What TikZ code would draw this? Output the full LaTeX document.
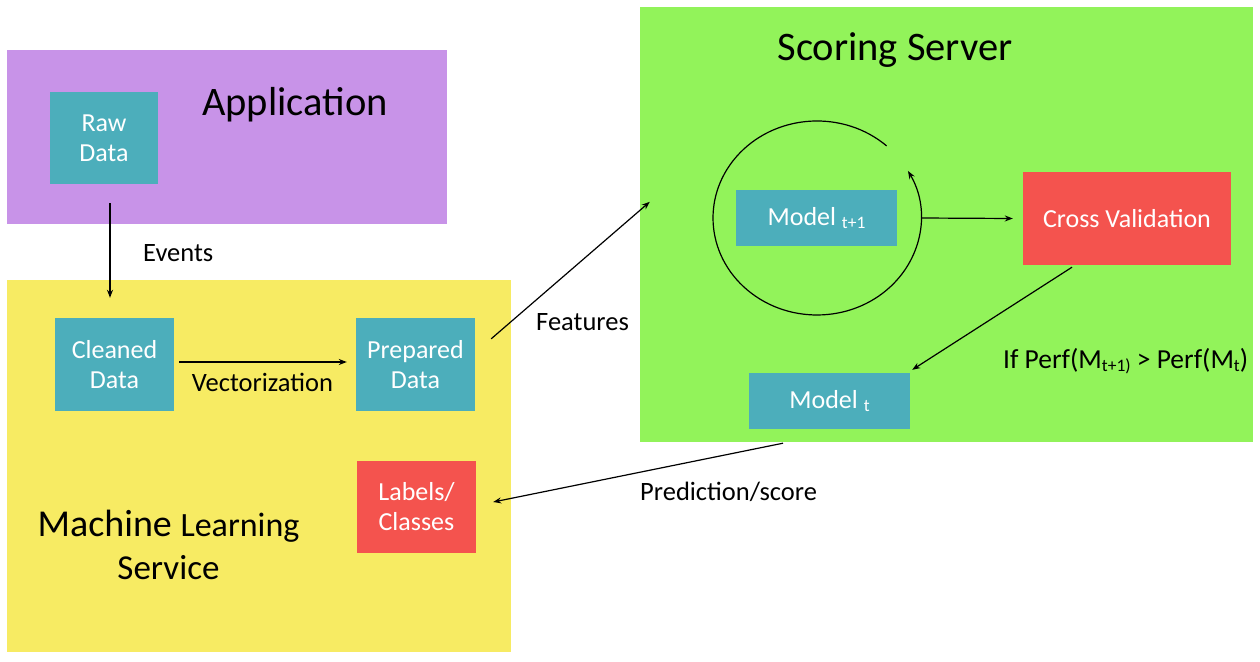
\documentclass[tikz,border=0pt]{standalone}
\usepackage{fontspec}
\setmainfont{Carlito}
\usetikzlibrary{arrows.meta,calc}
\definecolor{appc}{HTML}{C893E8}
\definecolor{mlc}{HTML}{F7EB63}
\definecolor{scc}{HTML}{92F35A}
\definecolor{tealc}{HTML}{4CAEBB}
\definecolor{redc}{HTML}{F4534E}
\newcommand{\subsc}[1]{\raisebox{-3pt}{\fontsize{17.5}{17.5}\selectfont #1}}
\begin{document}
\begin{tikzpicture}[x=1pt,y=-1pt,
  region/.style={rectangle, draw=none, inner sep=0pt},
  box/.style={rectangle, inner sep=0pt, text=white, align=center, font=\fontsize{26}{30}\selectfont},
  tealbox/.style={box, fill=tealc},
  redbox/.style={box, fill=redc},
  arr/.style={-{Stealth[length=8pt,width=6pt]}, line width=1.2pt},
  lbl/.style={font=\fontsize{26.5}{30}\selectfont, inner sep=0pt},
  title/.style={font=\fontsize{40.5}{44}\selectfont, inner sep=0pt}]
\useasboundingbox (0,0) rectangle (1260,661);
\fill[white] (0,0) rectangle (1260,661);
% regions
\node[region, fill=appc, minimum width=440pt, minimum height=174pt] (app) at (227,137) {};
\node[region, fill=mlc, minimum width=504pt, minimum height=372pt] (ml) at (259,466) {};
\node[region, fill=scc, minimum width=613pt, minimum height=435pt] (scoring) at (946.5,224.5) {};
% titles
\node[title, anchor=base] (apptitle) at (295,115) {Application};
\node[title, anchor=base] (sctitle) at (895,60) {Scoring Server};
\node[inner sep=0pt, align=center, anchor=center, font=\fontsize{38}{43}\selectfont] (mltitle) at (168.5,545)
  {Machine {\fontsize{34}{43}\selectfont Learning}\\{\fontsize{35}{43}\selectfont Service}};
% boxes
\node[tealbox, minimum width=108pt, minimum height=92pt] (raw) at (104,138) {Raw\\Data};
\node[tealbox, minimum width=119pt, minimum height=93pt] (cleaned) at (114.5,364.5) {Cleaned\\Data};
\node[tealbox, minimum width=119pt, minimum height=93pt] (prepared) at (415.5,364.5) {Prepared\\Data};
\node[redbox, minimum width=119pt, minimum height=92pt] (labels) at (416.5,507) {Labels/\\Classes};
\node[tealbox, minimum width=161pt, minimum height=56pt] (mt1) at (816.5,218) {Model \subsc{t+1}};
\node[redbox, minimum width=208pt, minimum height=93pt] (cv) at (1127,218.5) {Cross Validation};
\node[tealbox, minimum width=161pt, minimum height=56pt] (mt) at (829.5,401) {Model \subsc{t}};
% labels
\node[lbl, anchor=base west] (events) at (143,261) {Events};
\node[lbl, anchor=base] (vect) at (262.5,391) {Vectorization};
\node[lbl, anchor=base west] (feat) at (536,330) {Features};
\node[lbl, anchor=base west] (pred) at (640,500) {Prediction/score};
\node[lbl, anchor=base west, font=\fontsize{27.5}{30}\selectfont] (cond) at (1003,368) {If Perf(M\subsc{t+1)} > Perf(M\subsc{t})};
% connectors
\coordinate (loopc) at (817,218);
\draw[arr] ($(raw.south)+(6,19)$) -- ($(cleaned.north)+(-4.5,-20)$);
\draw[arr] ($(cleaned.east)+(5,-2.5)$) -- ($(prepared.west)+(-9,-2.5)$);
\draw[arr] ($(prepared.north east)+(16,21)$) -- ($(scoring.north west)+(10,195)$);
\draw[arr] ($(loopc)+(69.6,-72.1)$) arc[start angle=-48, end angle=-389, x radius=104, y radius=97];
\draw[arr] ($(loopc)+(104,0)$) -- ($(cv.west)+(-10,0)$);
\draw[arr] ($(cv.south)+(-55,2)$) -- ($(mt.north east)+(2,-3)$);
\draw[arr] ($(mt.south)+(-46.5,14)$) -- ($(labels.east)+(17,-5)$);
\end{tikzpicture}
\end{document}
